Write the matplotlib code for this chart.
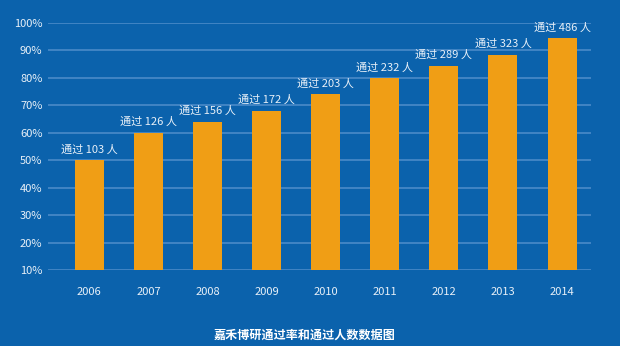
import numpy as np
import matplotlib
matplotlib.use('Agg')
import matplotlib.pyplot as plt
from matplotlib.ticker import FuncFormatter

plt.rcParams['font.family'] = ['Noto Sans CJK SC', 'DejaVu Sans']

years = ['2006', '2007', '2008', '2009', '2010', '2011', '2012', '2013', '2014']
pass_rate = [50, 60, 64, 68, 74, 80, 84.5, 88.5, 94.5]
pass_count = [103, 126, 156, 172, 203, 232, 289, 323, 486]

bg = '#0b62ac'
bar_color = '#f09e15'
grid_color = '#4f8ecb'
text_color = '#e8f0f8'

fig = plt.figure(figsize=(6.2, 3.46), dpi=100)
fig.patch.set_facecolor(bg)
ax = fig.add_axes([48 / 620, 1 - 270 / 346, (591 - 48) / 620, (270 - 23) / 346])
ax.set_facecolor(bg)

x = np.arange(len(years))
ax.bar(x, pass_rate, width=0.49, color=bar_color, zorder=3)

# pass count written above each bar
for xi, rate, n in zip(x, pass_rate, pass_count):
    ax.annotate(f'通过 {n} 人', (xi, rate), xytext=(0, 4), textcoords='offset points',
                ha='center', va='bottom', fontsize=8, color=text_color, zorder=4)

ax.set_ylim(10, 100)
ax.set_yticks(range(10, 101, 10))
ax.yaxis.set_major_formatter(FuncFormatter(lambda v, _: f'{int(v)}%'))
ax.set_xlim(-0.70, 8.49)
ax.set_xticks(x)
ax.set_xticklabels(years)

ax.grid(axis='y', color=grid_color, linewidth=1.1, zorder=0)
ax.tick_params(axis='both', length=0, colors=text_color, labelsize=8)
ax.tick_params(axis='x', pad=12)
ax.tick_params(axis='y', pad=4)
for s in ax.spines.values():
    s.set_visible(False)

fig.text(305 / 620, 1 - 335 / 346, '嘉禾博研通过率和通过人数数据图', ha='center', va='center',
         fontsize=8.7, fontweight='bold', color='white')

fig.savefig('out.png', dpi=100, facecolor=bg)
